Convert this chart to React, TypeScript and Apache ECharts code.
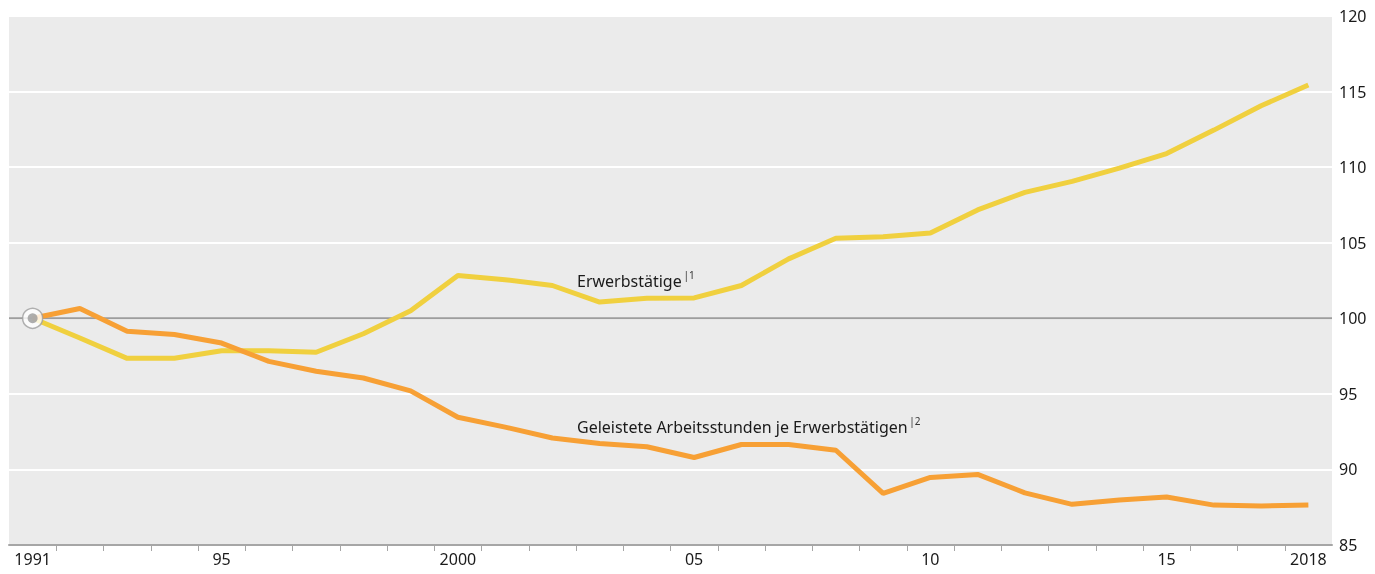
import React, { useEffect, useRef } from "react";
import * as echarts from "echarts";

const years = [
  1991, 1992, 1993, 1994, 1995, 1996, 1997, 1998, 1999, 2000,
  2001, 2002, 2003, 2004, 2005, 2006, 2007, 2008, 2009, 2010,
  2011, 2012, 2013, 2014, 2015, 2016, 2017, 2018,
];

const erwerbstaetige = [
  100, 98.7, 97.35, 97.35, 97.85, 97.85, 97.75, 98.98, 100.5, 102.83,
  102.55, 102.17, 101.07, 101.33, 101.35, 102.17, 103.93, 105.3, 105.4, 105.65,
  107.17, 108.33, 109.06, 109.94, 110.9, 112.45, 114.06, 115.44,
];

const arbeitsstunden = [
  100, 100.65, 99.15, 98.93, 98.36, 97.15, 96.5, 96.05, 95.2, 93.45,
  92.8, 92.08, 91.71, 91.5, 90.79, 91.65, 91.65, 91.27, 88.41, 89.47,
  89.67, 88.45, 87.69, 87.97, 88.17, 87.64, 87.58, 87.64,
];

const xLabelYears = [1991, 1995, 2000, 2005, 2010, 2015, 2018];
const xLabelTexts = ["1991", "95", "2000", "05", "10", "15", "2018"];

const FONT = "'Noto Sans', sans-serif";

export default function App() {
  const ref = useRef<HTMLDivElement>(null);

  useEffect(() => {
    if (!ref.current) return;
    const chart = echarts.init(ref.current, null, { renderer: "svg" });
    const tickValues = years.slice(0, -1).map((y) => y + 0.5);
    const first = years[0];
    const last = years[years.length - 1];

    chart.setOption({
      animation: false,
      grid: {
        left: 9,
        right: 43,
        top: 16,
        bottom: 29,
        show: true,
        backgroundColor: "#ebebeb",
        borderWidth: 0,
      },
      xAxis: {
        type: "value",
        min: first - 0.5,
        max: last + 0.5,
        axisLine: { show: true, lineStyle: { color: "#a6a6a6", width: 2 } },
        axisTick: {
          show: true,
          customValues: tickValues,
          length: 6,
          lineStyle: { color: "#a6a6a6", width: 1 },
        },
        axisLabel: {
          customValues: xLabelYears,
          formatter: (v: number) => {
            const i = xLabelYears.indexOf(Math.round(v));
            return i >= 0 ? xLabelTexts[i] : "";
          },
          color: "#1a1a1a",
          fontFamily: FONT,
          fontSize: 16,
          margin: 6,
        },
        splitLine: { show: false },
      },
      yAxis: {
        type: "value",
        position: "right",
        min: 85,
        max: 120,
        interval: 5,
        axisLine: { show: false },
        axisTick: { show: false },
        axisLabel: {
          color: "#1a1a1a",
          fontFamily: FONT,
          fontSize: 16,
          margin: 7,
        },
        splitLine: { show: true, lineStyle: { color: "#ffffff", width: 2 } },
      },
      series: [
        {
          type: "line",
          name: "ref100",
          data: [
            [first - 0.5, 100],
            [last + 0.5, 100],
          ],
          symbol: "none",
          lineStyle: { color: "#9d9d9d", width: 2 },
          z: 1,
          silent: true,
        },
        {
          type: "line",
          name: "Geleistete Arbeitsstunden je Erwerbstätigen",
          data: years.map((y, i) => [y, arbeitsstunden[i]]),
          symbol: "none",
          lineStyle: { color: "#f7a035", width: 5 },
          z: 3,
        },
        {
          type: "line",
          name: "Erwerbstätige",
          data: years.map((y, i) => [y, erwerbstaetige[i]]),
          symbol: "none",
          lineStyle: { color: "#f0d03f", width: 5 },
          z: 2,
        },
        {
          type: "scatter",
          data: [[first, 100]],
          symbol: "circle",
          symbolSize: 20,
          itemStyle: { color: "#ffffff", borderColor: "#9d9d9d", borderWidth: 1.5 },
          z: 5,
          silent: true,
        },
        {
          type: "scatter",
          data: [[first, 100]],
          symbol: "circle",
          symbolSize: 10,
          itemStyle: { color: "#9a9a9a" },
          z: 6,
          silent: true,
        },
      ],
      graphic: [
        {
          type: "text",
          left: 577,
          top: 270,
          z: 10,
          style: {
            text: "{n|Erwerbstätige}{s|\u2009|1}",
            rich: {
              n: { fontFamily: FONT, fontSize: 16, lineHeight: 22, fill: "#1a1a1a" },
              s: { fontFamily: FONT, fontSize: 10, lineHeight: 12, verticalAlign: "top", fill: "#333333" },
            },
          },
        },
        {
          type: "text",
          left: 577,
          top: 416,
          z: 10,
          style: {
            text: "{n|Geleistete Arbeitsstunden je Erwerbstätigen}{s|\u2009|2}",
            rich: {
              n: { fontFamily: FONT, fontSize: 16, lineHeight: 22, fill: "#1a1a1a" },
              s: { fontFamily: FONT, fontSize: 10, lineHeight: 12, verticalAlign: "top", fill: "#333333" },
            },
          },
        },
      ],
    });

    return () => chart.dispose();
  }, []);

  return (
    <div
      ref={ref}
      style={{ position: "fixed", left: 0, top: 0, width: 1375, height: 574 }}
    />
  );
}
